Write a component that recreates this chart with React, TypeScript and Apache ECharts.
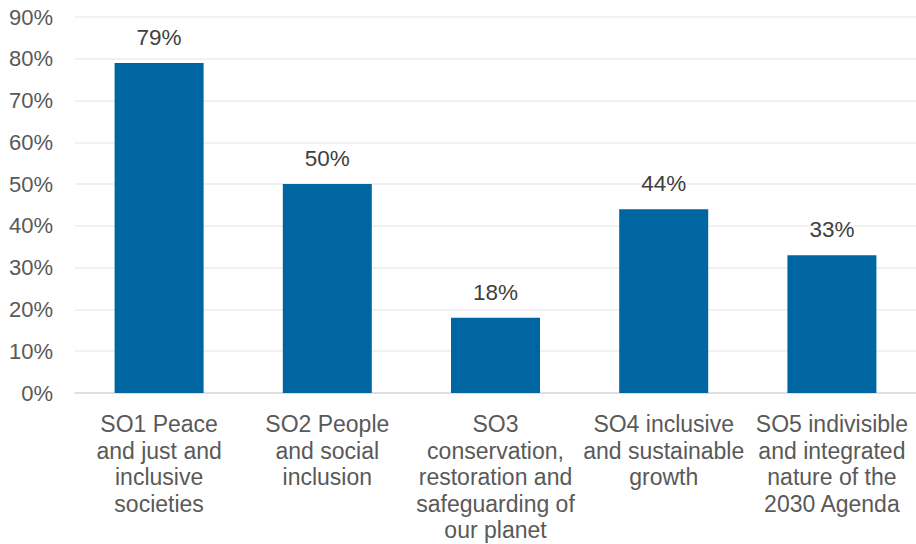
import React, { useEffect, useRef } from "react";
import * as echarts from "echarts";

const categories = [
  "SO1 Peace\nand just and\ninclusive\nsocieties",
  "SO2 People\nand social\ninclusion",
  "SO3\nconservation,\nrestoration and\nsafeguarding of\nour planet",
  "SO4 inclusive\nand sustainable\ngrowth",
  "SO5 indivisible\nand integrated\nnature of the\n2030 Agenda",
];
const values = [79, 50, 18, 44, 33];
const yTicks = { min: 0, max: 90, interval: 10 };

export default function App() {
  const ref = useRef<HTMLDivElement>(null);
  useEffect(() => {
    document.body.style.margin = "0";
    const chart = echarts.init(ref.current!, null, { renderer: "svg" });
    const font = "'Liberation Sans', Arial, sans-serif";
    chart.setOption({
      animation: false,
      textStyle: { fontFamily: font },
      grid: { left: 75, right: 0, top: 17, bottom: 151, containLabel: false },
      xAxis: {
        type: "category",
        data: categories,
        axisLine: { lineStyle: { color: "#d9d9d9", width: 1.5 } },
        axisTick: { show: false },
        axisLabel: {
          interval: 0,
          color: "#595959",
          fontSize: 23,
          lineHeight: 26.5,
          margin: 18,
          fontFamily: font,
          align: "center",
        },
      },
      yAxis: {
        type: "value",
        min: yTicks.min,
        max: yTicks.max,
        interval: yTicks.interval,
        axisLine: { show: false },
        axisTick: { show: false },
        splitLine: { lineStyle: { color: "#ececec", width: 1.5 } },
        axisLabel: {
          color: "#595959",
          fontSize: 22,
          margin: 22,
          fontFamily: font,
          formatter: (v: number) => `${v}%`,
        },
      },
      series: [
        {
          type: "bar",
          data: values,
          barWidth: 89,
          itemStyle: { color: "#0066A1" },
          label: {
            show: true,
            position: "top",
            distance: 14,
            color: "#404040",
            fontSize: 22.5,
            fontFamily: font,
            formatter: (p: any) => `${p.value}%`,
          },
        },
      ],
    });
    return () => chart.dispose();
  }, []);
  return <div ref={ref} style={{ width: 916, height: 544 }} />;
}
